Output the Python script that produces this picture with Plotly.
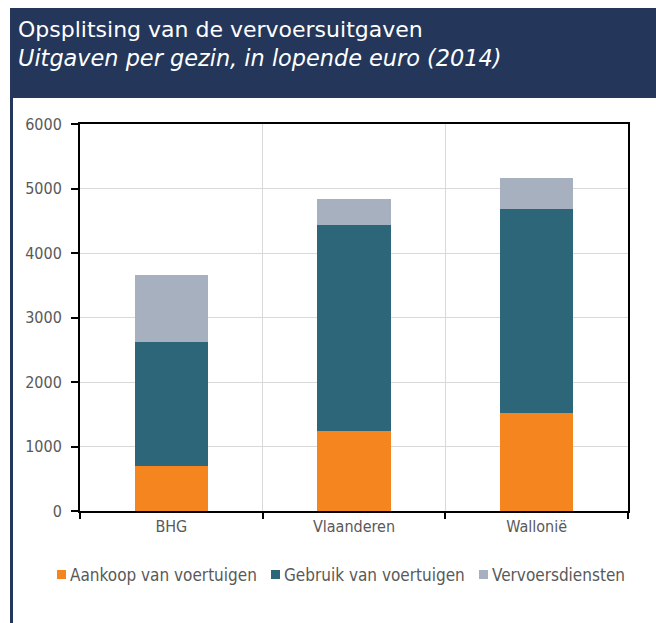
import plotly.graph_objects as go

categories = ["BHG", "Vlaanderen", "Wallonië"]
series_names = ["Aankoop van voertuigen", "Gebruik van voertuigen", "Vervoersdiensten"]
aankoop = [705, 1235, 1515]
gebruik = [1915, 3195, 3165]
diensten = [1035, 400, 490]
series_values = [aankoop, gebruik, diensten]
colors = ["#F5861F", "#2E6679", "#A6B0BE"]
y_ticks = [0, 1000, 2000, 3000, 4000, 5000, 6000]

title = "Opsplitsing van de vervoersuitgaven"
subtitle = "Uitgaven per gezin, in lopende euro (2014)"

W, H = 656, 623
ML, MR, MT, MB = 80, 28, 124, 112
PW = W - ML - MR
PH = H - MT - MB

def px(x):
    return (x - ML) / PW

def py(y):
    return (H - MB - y) / PH

FONT = "DejaVu Sans Condensed, DejaVu Sans, sans-serif"
FONT_REG = "DejaVu Sans, sans-serif"
GRAY = "#595959"

fig = go.Figure()
for name, vals, col in zip(series_names, series_values, colors):
    fig.add_trace(go.Bar(x=categories, y=vals, name=name, marker=dict(color=col, line=dict(width=0)),
                         showlegend=False))

shapes = [
    dict(type="rect", xref="paper", yref="paper", x0=px(10), x1=px(W + 2), y0=py(98), y1=py(8),
         fillcolor="#24375A", line=dict(width=0), layer="below"),
    dict(type="rect", xref="paper", yref="paper", x0=px(10), x1=px(13), y0=py(H + 2), y1=py(98),
         fillcolor="#24375A", line=dict(width=0), layer="below"),
]
annotations = [
    dict(text=title, x=px(16), y=py(30), xref="paper", yref="paper", xanchor="left", yanchor="middle",
         showarrow=False, font=dict(family=FONT_REG, size=22, color="white")),
    dict(text="<i>" + subtitle + "</i>", x=px(16), y=py(58), xref="paper", yref="paper", xanchor="left",
         yanchor="middle", showarrow=False, font=dict(family=FONT_REG, size=22.4, color="white")),
]

leg_sq = [57, 271, 479]
for name, col, sx in zip(series_names, colors, leg_sq):
    shapes.append(dict(type="rect", xref="paper", yref="paper", x0=px(sx), x1=px(sx + 9),
                       y0=py(579), y1=py(570), fillcolor=col, line=dict(width=0)))
    annotations.append(dict(text=name, x=px(sx + 11), y=py(575), xref="paper", yref="paper",
                            xanchor="left", yanchor="middle", showarrow=False,
                            font=dict(family=FONT, size=17, color=GRAY)))

fig.update_layout(
    width=W, height=H,
    margin=dict(l=ML, r=MR, t=MT, b=MB),
    paper_bgcolor="white", plot_bgcolor="white",
    barmode="stack", bargap=0.6,
    font=dict(family=FONT, size=16, color=GRAY),
    shapes=shapes, annotations=annotations,
    xaxis=dict(type="category", tickson="boundaries", showgrid=True, gridcolor="#D9D9D9", gridwidth=1,
               showline=True, linecolor="black", linewidth=2, mirror=True,
               ticks="outside", ticklen=6, tickcolor="black", tickwidth=1.5,
               tickfont=dict(family=FONT, size=16, color=GRAY)),
    yaxis=dict(range=[0, 6000], tickvals=y_ticks, showgrid=True, gridcolor="#D9D9D9", gridwidth=1,
               showline=True, linecolor="black", linewidth=2, mirror=True, zeroline=False,
               ticks="outside", ticklen=7, tickcolor="black", tickwidth=1.5,
               ticklabelstandoff=6,
               tickfont=dict(family=FONT, size=16, color=GRAY)),
)

fig.write_html("out.html", config={"displayModeBar": False},
               post_script="document.body.style.margin='0px';")
